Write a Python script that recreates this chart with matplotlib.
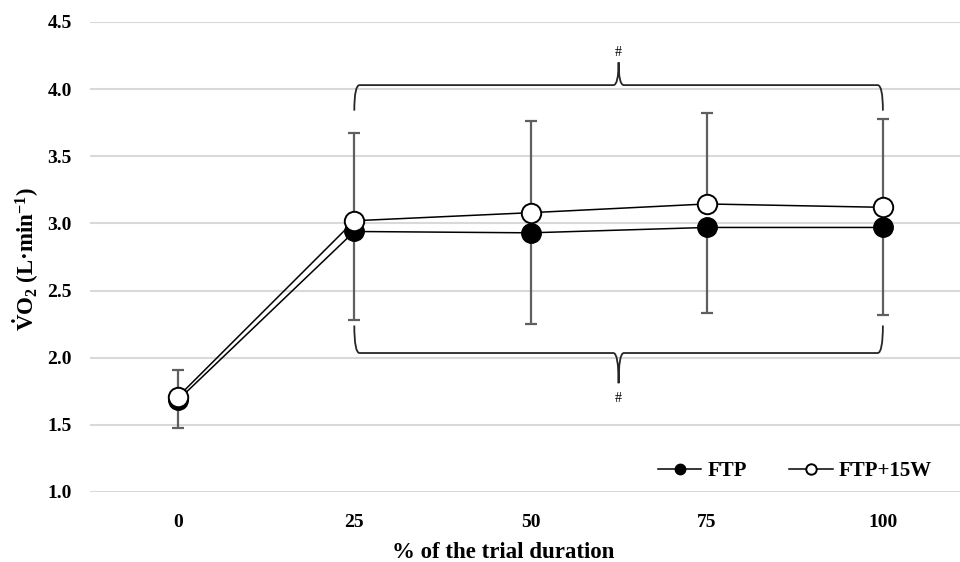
import matplotlib
matplotlib.use("Agg")
import matplotlib.pyplot as plt
from matplotlib.path import Path
from matplotlib.patches import PathPatch

plt.rcParams['font.family'] = ['Liberation Serif', 'DejaVu Serif']
plt.rcParams['mathtext.fontset'] = 'custom'
plt.rcParams['mathtext.rm'] = 'Liberation Serif:bold'
plt.rcParams['mathtext.bf'] = 'Liberation Serif:bold'
plt.rcParams['mathtext.it'] = 'Liberation Serif:bold'

# data
durations = ['0', '25', '50', '75', '100']
ftp = [1.685, 2.94, 2.93, 2.97, 2.97]
ftp15 = [1.71, 3.02, 3.08, 3.145, 3.12]
ftp_sd = [0.21, 0.66, 0.68, 0.64, 0.65]
ftp15_sd = [0.20, 0.65, 0.68, 0.68, 0.66]
y_ticks = [1.0, 1.5, 2.0, 2.5, 3.0, 3.5, 4.0, 4.5]


def brace(ax, x0, x1, y_end, y_bar, y_tip, dx=0.03):
    xm = (x0 + x1) / 2
    verts = [(x0, y_end), (x0, y_bar), (x0 + dx, y_bar),
             (xm - dx, y_bar), (xm, y_bar), (xm, y_tip),
             (xm, y_bar), (xm + dx, y_bar),
             (x1 - dx, y_bar), (x1, y_bar), (x1, y_end)]
    codes = [Path.MOVETO, Path.CURVE3, Path.CURVE3,
             Path.LINETO, Path.CURVE3, Path.CURVE3,
             Path.CURVE3, Path.CURVE3,
             Path.LINETO, Path.CURVE3, Path.CURVE3]
    ax.add_patch(PathPatch(Path(verts, codes), fill=False, lw=1.3,
                           edgecolor='#262626', zorder=2))
    return xm


fig = plt.figure(figsize=(9.6, 5.62), dpi=100)
ax = fig.add_axes([90 / 960, 70 / 562, 881 / 960, 470 / 562])

x = list(range(len(durations)))

ax.errorbar(x, ftp, yerr=[ftp_sd, [0] * 5], fmt='none', ecolor='#5f5f5f',
            elinewidth=1.6, capsize=4, capthick=1.6, zorder=2)
ax.errorbar(x, ftp15, yerr=[[0] * 5, ftp15_sd], fmt='none', ecolor='#5f5f5f',
            elinewidth=1.6, capsize=4, capthick=1.6, zorder=2)

ax.plot(x, ftp, color='black', lw=1.1, marker='o', markersize=14,
        markerfacecolor='black', markeredgecolor='black', label='FTP', zorder=3)
ax.plot(x, ftp15, color='black', lw=1.1, marker='o', markersize=14,
        markerfacecolor='white', markeredgecolor='black', markeredgewidth=1.4,
        label='FTP+15W', zorder=4)

xm = brace(ax, 1, 4, 3.84, 4.03, 4.20)
ax.text(xm, 4.27, '#', ha='center', va='center', fontsize=10)
brace(ax, 1, 4, 2.24, 2.035, 1.81)
ax.text(xm, 1.70, '#', ha='center', va='center', fontsize=10)

ax.set_xlim(-0.5, 4.5)
ax.set_ylim(1.0, 4.5)
ax.set_yticks(y_ticks)
ax.set_yticklabels([f'{v:.1f}' for v in y_ticks])
ax.set_xticks(x)
ax.set_xticklabels(durations)
ax.grid(axis='y', color='#d9d9d9', lw=1.5, zorder=0)
ax.set_axisbelow(True)
for s in ax.spines.values():
    s.set_visible(False)
ax.tick_params(length=0, labelsize=14)
ax.tick_params(axis='y', pad=13)
ax.tick_params(axis='x', pad=16)
for lab in ax.get_xticklabels() + ax.get_yticklabels():
    lab.set_fontweight('bold')

fig.text(503 / 960, 1 - 552 / 562, '% of the trial duration',
         ha='center', va='center', fontsize=16.5, fontweight='bold')
fig.text(26 / 960, 1 - 259 / 562, r'$\dot{\mathrm{V}}\mathrm{O_2}$ (L·min$^{-1}$)',
         rotation=90, ha='center', va='center', fontsize=16.5, fontweight='bold')

leg = ax.legend(loc='center right', bbox_to_anchor=(932 / 960, 1 - 471 / 562),
                bbox_transform=fig.transFigure, ncol=2, frameon=False,
                handlelength=2.1, columnspacing=2.0, handletextpad=0.3,
                borderpad=0, borderaxespad=0,
                prop={'weight': 'bold', 'size': 15})
for h in leg.legend_handles:
    h.set_markersize(7.5)

fig.savefig('out.png', dpi=100)
